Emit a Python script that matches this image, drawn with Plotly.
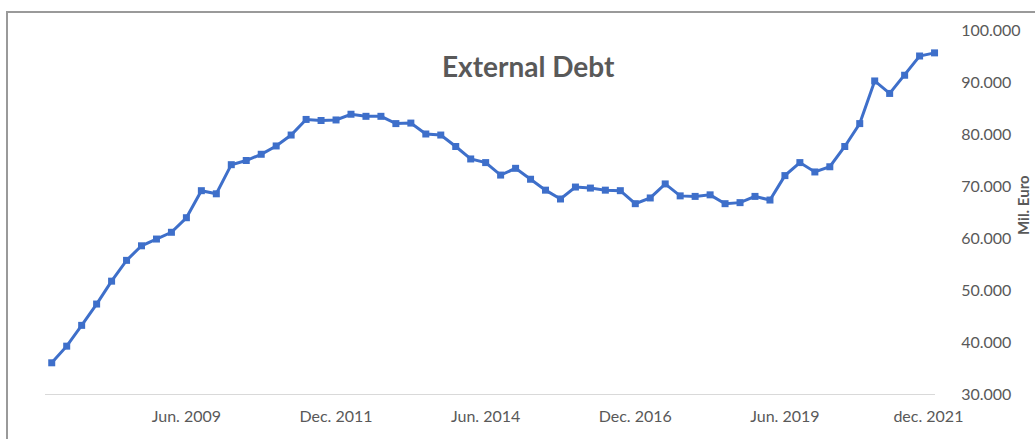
import plotly.graph_objects as go

quarters = [
    "Mar. 2007", "Jun. 2007", "Sep. 2007", "Dec. 2007",
    "Mar. 2008", "Jun. 2008", "Sep. 2008", "Dec. 2008",
    "Mar. 2009", "Jun. 2009", "Sep. 2009", "Dec. 2009",
    "Mar. 2010", "Jun. 2010", "Sep. 2010", "Dec. 2010",
    "Mar. 2011", "Jun. 2011", "Sep. 2011", "Dec. 2011",
    "Mar. 2012", "Jun. 2012", "Sep. 2012", "Dec. 2012",
    "Mar. 2013", "Jun. 2013", "Sep. 2013", "Dec. 2013",
    "Mar. 2014", "Jun. 2014", "Sep. 2014", "Dec. 2014",
    "Mar. 2015", "Jun. 2015", "Sep. 2015", "Dec. 2015",
    "Mar. 2016", "Jun. 2016", "Sep. 2016", "Dec. 2016",
    "Mar. 2017", "Jun. 2017", "Sep. 2017", "Dec. 2017",
    "Mar. 2018", "Jun. 2018", "Sep. 2018", "Dec. 2018",
    "Mar. 2019", "Jun. 2019", "Sep. 2019", "Dec. 2019",
    "Mar. 2020", "Jun. 2020", "Sep. 2020", "Dec. 2020",
    "Mar. 2021", "Jun. 2021", "Sep. 2021", "Dec. 2021",
]

external_debt = [
    36.0, 39.2, 43.2, 47.3, 51.7, 55.7, 58.5, 59.8, 61.1, 63.9,
    69.1, 68.5, 74.1, 74.9, 76.1, 77.7, 79.8, 82.8, 82.6, 82.7,
    83.8, 83.4, 83.4, 82.0, 82.1, 80.0, 79.8, 77.6, 75.2, 74.5,
    72.1, 73.4, 71.3, 69.2, 67.5, 69.8, 69.6, 69.2, 69.1, 66.6,
    67.7, 70.4, 68.1, 68.0, 68.3, 66.6, 66.8, 68.0, 67.3, 72.0,
    74.5, 72.7, 73.7, 77.6, 82.0, 90.2, 87.8, 91.3, 95.0, 95.6,
]
external_debt = [v * 1000 for v in external_debt]

x_tick_vals = ["Jun. 2009", "Dec. 2011", "Jun. 2014", "Dec. 2016", "Jun. 2019", "Dec. 2021"]
x_tick_text = ["Jun. 2009", "Dec. 2011", "Jun. 2014", "Dec. 2016", "Jun. 2019", "dec. 2021\u00a0\u00a0\u00a0"]
y_tick_vals = [30000, 40000, 50000, 60000, 70000, 80000, 90000, 100000]
y_tick_text = ["30.000", "40.000", "50.000", "60.000", "70.000", "80.000", "90.000", "100.000"]

W, H = 1035, 439
ML, MR, MT, MB = 45, 100, 30, 45
pw = W - ML - MR
ph = H - MT - MB

def px_x(p):
    return (p - ML) / pw

def px_y(p):
    return (H - MB - p) / ph

fig = go.Figure()
fig.add_trace(go.Scatter(
    x=quarters, y=external_debt, mode="lines+markers",
    line=dict(color="#3E6FCA", width=3),
    marker=dict(symbol="square", size=7, color="#3E6FCA"),
    cliponaxis=False, showlegend=False,
))

gray = "#595959"
fig.update_layout(
    width=W, height=H,
    margin=dict(l=ML, r=MR, t=MT, b=MB),
    paper_bgcolor="white", plot_bgcolor="white",
    font=dict(family="Lato, sans-serif", color=gray),
    xaxis=dict(
        type="category", range=[-0.45, 59.03],
        tickmode="array", tickvals=x_tick_vals, ticktext=x_tick_text,
        showgrid=False, zeroline=False,
        showline=True, linecolor="#D9D9D9", linewidth=1,
        ticks="outside", ticklen=8, tickcolor="rgba(0,0,0,0)",
        tickfont=dict(size=16, color=gray),
    ),
    yaxis=dict(
        side="right", range=[30000, 100000],
        tickmode="array", tickvals=y_tick_vals, ticktext=y_tick_text,
        showgrid=False, zeroline=False, showline=False,
        ticks="outside", ticklen=22, tickcolor="rgba(0,0,0,0)",
        tickfont=dict(size=16, color=gray),
    ),
    annotations=[
        dict(text="<b>External Debt</b>", xref="paper", yref="paper",
             x=px_x(528), y=px_y(66), xanchor="center", yanchor="middle",
             showarrow=False, font=dict(size=28, color=gray, family="Lato, sans-serif")),
        dict(text="<b>Mil. Euro</b>", xref="paper", yref="paper",
             x=px_x(1012), y=px_y(205), xanchor="left", yanchor="middle",
             textangle=-90, showarrow=False,
             font=dict(size=15, color=gray, family="Lato, sans-serif")),
    ],
    shapes=[
        dict(type="line", xref="paper", yref="paper",
             x0=px_x(7), x1=px_x(7), y0=px_y(12), y1=px_y(H + 5),
             line=dict(color="#9A9A9A", width=2)),
        dict(type="line", xref="paper", yref="paper",
             x0=px_x(6), x1=px_x(W + 5), y0=px_y(12), y1=px_y(12),
             line=dict(color="#9A9A9A", width=2)),
    ],
)

fig.write_html("out.html", config={"displayModeBar": False},
               post_script="document.body.style.margin='0';document.body.style.overflow='hidden';")
